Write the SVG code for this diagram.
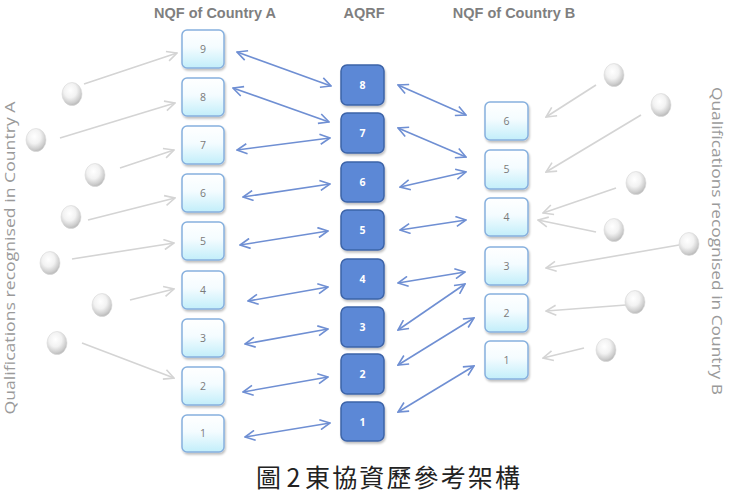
<svg xmlns="http://www.w3.org/2000/svg" width="731" height="493" viewBox="0 0 731 493">
<defs>
  <linearGradient id="gLight" x1="0" y1="0" x2="0" y2="1">
    <stop offset="0" stop-color="#ffffff"/>
    <stop offset="0.45" stop-color="#f4fcff"/>
    <stop offset="1" stop-color="#c2eefa"/>
  </linearGradient>
  <radialGradient id="gBall" cx="0.42" cy="0.35" r="0.7">
    <stop offset="0" stop-color="#ffffff"/>
    <stop offset="0.45" stop-color="#f2f2f2"/>
    <stop offset="0.8" stop-color="#cccccc"/>
    <stop offset="1" stop-color="#adadad"/>
  </radialGradient>
  <filter id="shadow" x="-20%" y="-20%" width="150%" height="150%">
    <feGaussianBlur in="SourceAlpha" stdDeviation="1.2"/>
    <feOffset dx="1" dy="1.5"/>
    <feComponentTransfer><feFuncA type="linear" slope="0.25"/></feComponentTransfer>
    <feMerge><feMergeNode/><feMergeNode in="SourceGraphic"/></feMerge>
  </filter>
  <marker id="blueHead" viewBox="0 0 12 12" refX="11" refY="6" markerWidth="12" markerHeight="12" markerUnits="userSpaceOnUse" orient="auto-start-reverse">
    <path d="M1,1 L11,6 L1,11" fill="none" stroke="#6f8fd3" stroke-width="1.6"/>
  </marker>
  <marker id="grayHead" viewBox="0 0 12 12" refX="11" refY="6" markerWidth="12" markerHeight="12" markerUnits="userSpaceOnUse" orient="auto">
    <path d="M1,1 L11,6 L1,11" fill="none" stroke="#d4d4d4" stroke-width="1.6"/>
  </marker>
</defs>
<style>
  .hdr { font-family: "Liberation Sans", Arial, sans-serif; font-weight: bold; font-size: 14.5px; fill: #7f7f7f; text-anchor: middle; }
  .side { font-family: "Open Sans", "DejaVu Sans", sans-serif; font-size: 15px; fill: #9a9a9a; text-anchor: middle; }
  .lbox { fill: url(#gLight); stroke: #86b0de; stroke-width: 1.5; filter: url(#shadow); }
  .ltxt { font-family: "Open Sans", "DejaVu Sans", sans-serif; font-size: 10.5px; fill: #7a7a7a; text-anchor: middle; }
  .dbox { fill: #5b88d6; stroke: #3d64a8; stroke-width: 1.5; filter: url(#shadow); }
  .dtxt { font-family: "Open Sans", "DejaVu Sans", sans-serif; font-size: 10.5px; font-weight: bold; fill: #ffffff; text-anchor: middle; }
  .ball { fill: url(#gBall); stroke: #d8d8d8; stroke-width: 0.6; }
  .blue { fill: none; stroke: #6f8fd3; stroke-width: 1.6; marker-start: url(#blueHead); marker-end: url(#blueHead); }
  .gray { fill: none; stroke: #d4d4d4; stroke-width: 1.6; marker-end: url(#grayHead); }
  .cap { font-family: "Noto Sans CJK TC", "Noto Sans CJK SC", sans-serif; font-size: 25px; fill: #222222; }
</style>

<g id="headers">
  <text class="hdr" x="215" y="18">NQF of Country A</text>
  <text class="hdr" x="364" y="18">AQRF</text>
  <text class="hdr" x="514" y="18">NQF of Country B</text>
</g>

<g id="side-labels">
  <text class="side" transform="translate(15,258) rotate(-90)" textLength="313" lengthAdjust="spacingAndGlyphs">Qualifications recognised in Country A</text>
  <text class="side" transform="translate(712,241) rotate(90)" textLength="308" lengthAdjust="spacingAndGlyphs">Qualifications recognised in Country B</text>
</g>

<g id="connectors">
  <!-- Country A to AQRF -->
  <line class="blue" x1="237" y1="52" x2="331" y2="86"/>
  <line class="blue" x1="233" y1="88" x2="329" y2="122"/>
  <line class="blue" x1="237" y1="150" x2="330" y2="138"/>
  <line class="blue" x1="243" y1="197" x2="330" y2="184"/>
  <line class="blue" x1="240" y1="245" x2="328" y2="231"/>
  <line class="blue" x1="248" y1="301" x2="328" y2="287"/>
  <line class="blue" x1="245" y1="344" x2="328" y2="329"/>
  <line class="blue" x1="243" y1="392" x2="328" y2="377"/>
  <line class="blue" x1="245" y1="437" x2="330" y2="423"/>
  <!-- AQRF to Country B -->
  <line class="blue" x1="398" y1="85" x2="466" y2="115"/>
  <line class="blue" x1="398" y1="128" x2="466" y2="157"/>
  <line class="blue" x1="400" y1="187" x2="466" y2="172"/>
  <line class="blue" x1="400" y1="230" x2="466" y2="220"/>
  <line class="blue" x1="398" y1="283" x2="465" y2="272"/>
  <line class="blue" x1="398" y1="330" x2="465" y2="284"/>
  <line class="blue" x1="398" y1="365" x2="474" y2="318"/>
  <line class="blue" x1="398" y1="412" x2="474" y2="366"/>
  <!-- qualifications into Country A -->
  <line class="gray" x1="84" y1="84" x2="177" y2="53"/>
  <line class="gray" x1="60" y1="138" x2="175" y2="103"/>
  <line class="gray" x1="120" y1="168" x2="174" y2="150"/>
  <line class="gray" x1="88" y1="220" x2="175" y2="198"/>
  <line class="gray" x1="72" y1="259" x2="174" y2="243"/>
  <line class="gray" x1="130" y1="300" x2="174" y2="289"/>
  <line class="gray" x1="82" y1="343" x2="174" y2="378"/>
  <!-- qualifications into Country B -->
  <line class="gray" x1="596" y1="85" x2="546" y2="117"/>
  <line class="gray" x1="641" y1="115" x2="546" y2="172"/>
  <line class="gray" x1="616" y1="188" x2="543" y2="213"/>
  <line class="gray" x1="596" y1="232" x2="538" y2="220"/>
  <line class="gray" x1="679" y1="245" x2="546" y2="268"/>
  <line class="gray" x1="626" y1="305" x2="546" y2="311"/>
  <line class="gray" x1="584" y1="348" x2="543" y2="358"/>
</g>

<g id="qualifications-A">
  <ellipse id="qa1" class="ball" cx="72" cy="94" rx="10" ry="11.5"/>
  <ellipse id="qa2" class="ball" cx="36" cy="140" rx="10" ry="11.5"/>
  <ellipse id="qa3" class="ball" cx="95" cy="175" rx="10" ry="11.5"/>
  <ellipse id="qa4" class="ball" cx="71" cy="217" rx="10" ry="11.5"/>
  <ellipse id="qa5" class="ball" cx="50" cy="263" rx="10" ry="11.5"/>
  <ellipse id="qa6" class="ball" cx="102" cy="305" rx="10" ry="11.5"/>
  <ellipse id="qa7" class="ball" cx="57" cy="343" rx="10" ry="11.5"/>
</g>

<g id="qualifications-B">
  <ellipse id="qb1" class="ball" cx="614" cy="75" rx="10" ry="11.5"/>
  <ellipse id="qb2" class="ball" cx="661" cy="105" rx="10" ry="11.5"/>
  <ellipse id="qb3" class="ball" cx="636" cy="183" rx="10" ry="11.5"/>
  <ellipse id="qb4" class="ball" cx="614" cy="230" rx="10" ry="11.5"/>
  <ellipse id="qb5" class="ball" cx="689" cy="244" rx="10" ry="11.5"/>
  <ellipse id="qb6" class="ball" cx="635" cy="302" rx="10" ry="11.5"/>
  <ellipse id="qb7" class="ball" cx="606" cy="350" rx="10" ry="11.5"/>
</g>

<g id="nqf-A">
  <g id="a9"><rect class="lbox" x="182" y="30" width="42" height="38" rx="5"/><text class="ltxt" x="203" y="53">9</text></g>
  <g id="a8"><rect class="lbox" x="182" y="78" width="42" height="38" rx="5"/><text class="ltxt" x="203" y="101">8</text></g>
  <g id="a7"><rect class="lbox" x="182" y="126" width="42" height="38" rx="5"/><text class="ltxt" x="203" y="149">7</text></g>
  <g id="a6"><rect class="lbox" x="182" y="174" width="42" height="38" rx="5"/><text class="ltxt" x="203" y="197">6</text></g>
  <g id="a5"><rect class="lbox" x="182" y="222" width="42" height="38" rx="5"/><text class="ltxt" x="203" y="245">5</text></g>
  <g id="a4"><rect class="lbox" x="182" y="271" width="42" height="38" rx="5"/><text class="ltxt" x="203" y="294">4</text></g>
  <g id="a3"><rect class="lbox" x="182" y="319" width="42" height="38" rx="5"/><text class="ltxt" x="203" y="342">3</text></g>
  <g id="a2"><rect class="lbox" x="182" y="367" width="42" height="38" rx="5"/><text class="ltxt" x="203" y="390">2</text></g>
  <g id="a1"><rect class="lbox" x="182" y="415" width="42" height="37" rx="5"/><text class="ltxt" x="203" y="437">1</text></g>
</g>

<g id="aqrf">
  <g id="q8"><rect class="dbox" x="341" y="65" width="43" height="40" rx="6"/><text class="dtxt" x="362.5" y="89">8</text></g>
  <g id="q7"><rect class="dbox" x="341" y="113" width="43" height="40" rx="6"/><text class="dtxt" x="362.5" y="137">7</text></g>
  <g id="q6"><rect class="dbox" x="341" y="162" width="43" height="40" rx="6"/><text class="dtxt" x="362.5" y="186">6</text></g>
  <g id="q5"><rect class="dbox" x="341" y="210" width="43" height="40" rx="6"/><text class="dtxt" x="362.5" y="234">5</text></g>
  <g id="q4"><rect class="dbox" x="341" y="259" width="43" height="40" rx="6"/><text class="dtxt" x="362.5" y="283">4</text></g>
  <g id="q3"><rect class="dbox" x="341" y="307" width="43" height="40" rx="6"/><text class="dtxt" x="362.5" y="331">3</text></g>
  <g id="q2"><rect class="dbox" x="341" y="354" width="43" height="40" rx="6"/><text class="dtxt" x="362.5" y="378">2</text></g>
  <g id="q1"><rect class="dbox" x="341" y="402" width="43" height="39" rx="6"/><text class="dtxt" x="362.5" y="426">1</text></g>
</g>

<g id="nqf-B">
  <g id="b6"><rect class="lbox" x="485" y="102" width="43" height="38" rx="5"/><text class="ltxt" x="506.5" y="125">6</text></g>
  <g id="b5"><rect class="lbox" x="485" y="150" width="43" height="39" rx="5"/><text class="ltxt" x="506.5" y="173">5</text></g>
  <g id="b4"><rect class="lbox" x="485" y="198" width="43" height="38" rx="5"/><text class="ltxt" x="506.5" y="221">4</text></g>
  <g id="b3"><rect class="lbox" x="485" y="247" width="43" height="38" rx="5"/><text class="ltxt" x="506.5" y="270">3</text></g>
  <g id="b2"><rect class="lbox" x="485" y="294" width="43" height="38" rx="5"/><text class="ltxt" x="506.5" y="317">2</text></g>
  <g id="b1"><rect class="lbox" x="485" y="341" width="43" height="38" rx="5"/><text class="ltxt" x="506.5" y="364">1</text></g>
</g>

<g id="caption">
  <text class="cap" x="256" y="487">圖 2</text>
  <text class="cap" x="305" y="487" textLength="215" lengthAdjust="spacing">東協資歷參考架構</text>
</g>
</svg>
